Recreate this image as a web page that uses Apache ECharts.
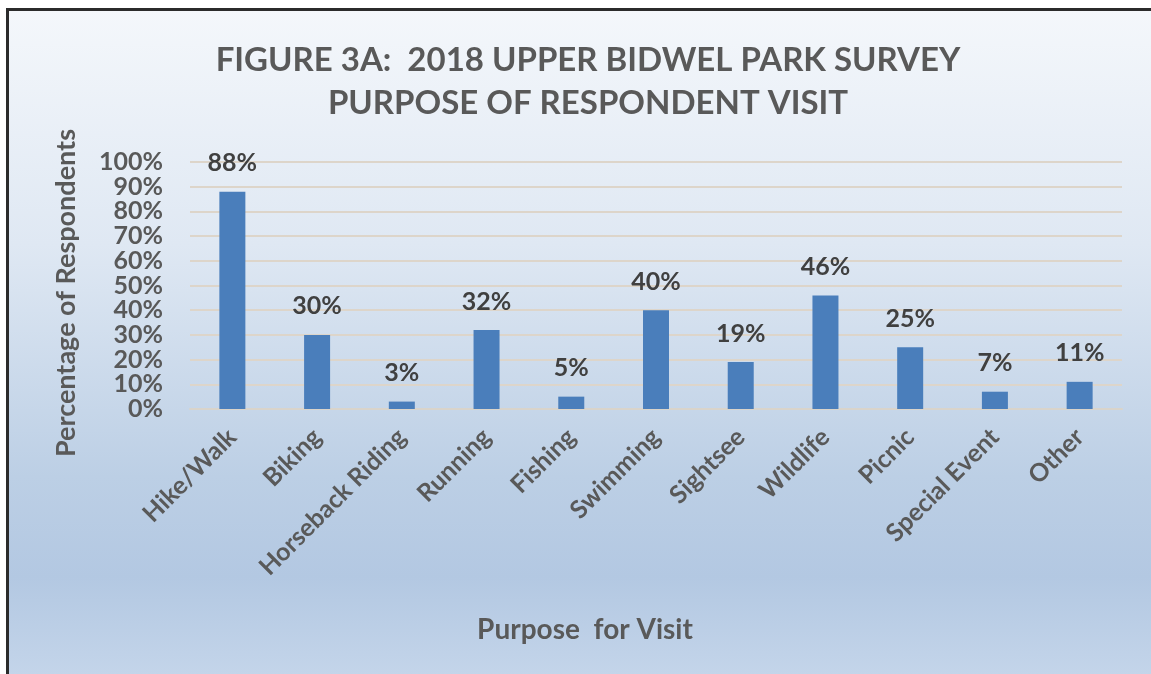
<!DOCTYPE html>
<html>
<head>
<meta charset="utf-8">
<script src="https://cdn.jsdelivr.net/npm/echarts@6/dist/echarts.min.js"></script>
<style>
  html, body { margin: 0; padding: 0; background: #ffffff; }
  #frame {
    position: absolute; left: 6px; top: 8px; width: 1145px; height: 666px;
    border-top: 3px solid #2b2b2b; border-left: 3px solid #2b2b2b;
    background: linear-gradient(to bottom, #f4f7fb 0%, #dfe8f3 35%, #bccfe5 70%, #b3c8e2 85%, #c4d5ea 100%);
  }
  #chart { position: absolute; left: 0; top: 0; width: 1151px; height: 674px; }
</style>
</head>
<body>
<div id="frame"></div>
<div id="chart"></div>
<script>
// Survey categories and share of respondents (percent)
const categories = ['Hike/Walk', 'Biking', 'Horseback Riding', 'Running', 'Fishing', 'Swimming', 'Sightsee', 'Wildlife', 'Picnic', 'Special Event', 'Other'];
const percentages = [88, 30, 3, 32, 5, 40, 19, 46, 25, 7, 11];
// y tick values, split in two sets so the tightly packed labels are all kept
const yTicksEven = [0, 20, 40, 60, 80, 100];
const yTicksOdd = [10, 30, 50, 70, 90];
const titleLines = ['FIGURE 3A:  2018 UPPER BIDWEL PARK SURVEY', 'PURPOSE OF RESPONDENT VISIT'];
const yAxisName = 'Percentage of Respondents';
const xAxisName = 'Purpose  for Visit';

const FONT = 'Lato, "Open Sans", sans-serif';
const TEXT = '#595959';

const yLabelStyle = (values) => ({
  customValues: values,
  margin: 27, formatter: '{value}%',
  fontFamily: FONT, fontSize: 25, fontWeight: 'bold', color: TEXT
});

const chart = echarts.init(document.getElementById('chart'), null, { renderer: 'canvas' });
chart.setOption({
  backgroundColor: 'transparent',
  animation: false,
  title: {
    text: titleLines.join('\n'),
    left: 583, top: 34, textAlign: 'center',
    textStyle: { fontFamily: FONT, fontSize: 33, fontWeight: 'bold', color: TEXT, lineHeight: 43 }
  },
  grid: { left: 190, right: 29, top: 162, bottom: 265 },
  // axis titles placed as free text
  graphic: [
    {
      type: 'text', x: 585, y: 630,
      style: {
        text: xAxisName, fill: TEXT, align: 'center', verticalAlign: 'middle',
        font: 'bold 28px ' + FONT
      }
    },
    {
      type: 'text', x: 66, y: 293, rotation: Math.PI / 2,
      style: {
        text: yAxisName, fill: TEXT, align: 'center', verticalAlign: 'middle',
        font: 'bold 27px ' + FONT
      }
    }
  ],
  xAxis: {
    type: 'category',
    data: categories,
    axisTick: { show: false },
    axisLine: { lineStyle: { color: '#d9d4cb', width: 2 } },
    axisLabel: {
      rotate: 45, margin: 24, interval: 0,
      fontFamily: FONT, fontSize: 25, fontWeight: 'bold', color: TEXT
    }
  },
  yAxis: [
    {
      type: 'value', position: 'left',
      min: 0, max: 100, interval: 10,
      axisLine: { show: false },
      axisTick: { show: false },
      splitLine: { lineStyle: { color: '#ddd5ca', width: 2 } },
      axisLabel: yLabelStyle(yTicksEven)
    },
    {
      type: 'value', position: 'left', offset: 0,
      min: 0, max: 100, interval: 10,
      axisLine: { show: false },
      axisTick: { show: false },
      splitLine: { show: false },
      axisLabel: yLabelStyle(yTicksOdd)
    }
  ],
  series: [{
    type: 'bar',
    yAxisIndex: 0,
    data: percentages,
    barWidth: 26,
    itemStyle: { color: '#4a7ebb' },
    label: {
      show: true, position: 'top', distance: 16,
      formatter: '{c}%',
      fontFamily: FONT, fontSize: 25, fontWeight: 'bold', color: '#404040'
    }
  }]
});
</script>
</body>
</html>
